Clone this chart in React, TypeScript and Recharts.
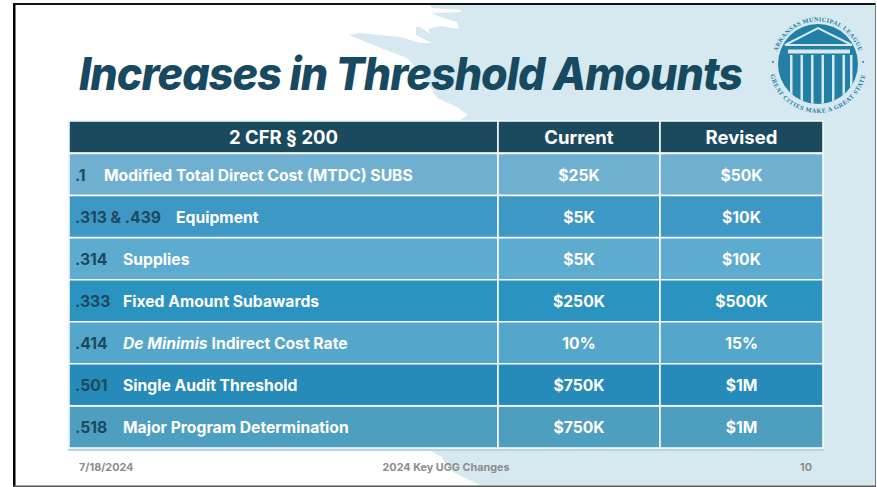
import { BarChart, Bar, XAxis, YAxis, Cell, LabelList } from 'recharts';

const columnHeaders = ['2 CFR § 200', 'Current', 'Revised'];
const columnSpans = [429, 162, 163];

const sectionCodes = ['.1', '.313 & .439', '.314', '.333', '.414', '.501', '.518'];
const sectionNames = [
  'Modified Total Direct Cost (MTDC) SUBS',
  'Equipment',
  'Supplies',
  'Fixed Amount Subawards',
  'De Minimis Indirect Cost Rate',
  'Single Audit Threshold',
  'Major Program Determination',
];
const currentAmounts = ['$25K', '$5K', '$5K', '$250K', '10%', '$750K', '$750K'];
const revisedAmounts = ['$50K', '$10K', '$10K', '$500K', '15%', '$1M', '$1M'];

const footerDate = '7/18/2024';
const footerTitle = '2024 Key UGG Changes';
const footerPage = '10';

const rowColors = ['#6FB0D0', '#3D98C5', '#5DABCF', '#2B93C0', '#55A6CB', '#268BB8', '#4E9EBF'];
const WHITE = '#FFFFFF';
const NAVY = '#1B4A5F';
const SEAL = '#227FA6';
const PALE = '#D6E9F0';
const FONT = 'Inter, sans-serif';

const headerRows = [{ name: 'header', section: columnSpans[0], current: columnSpans[1], revised: columnSpans[2] }];
const bodyRows = sectionNames.map((name) => ({
  name,
  section: columnSpans[0],
  current: columnSpans[1],
  revised: columnSpans[2],
}));

const boxOf = (props: any) => (props.viewBox && props.viewBox.width != null ? props.viewBox : props);

// the section name starts further right the longer the code is
const nameIndent = (code: string) => (code.length > 4 ? 107 : code.length > 2 ? 54 : 35);

const headerLabel = (col: number) => (props: any) => {
  const b = boxOf(props);
  return (
    <text x={b.x + b.width / 2} y={b.y + b.height / 2 + 7} textAnchor="middle" fill={WHITE} fontFamily={FONT} fontWeight={700} fontSize={18.5}>
      {columnHeaders[col]}
    </text>
  );
};

const sectionLabel = (props: any) => {
  const b = boxOf(props);
  const i = props.index;
  const name = sectionNames[i];
  const code = sectionCodes[i];
  const italic = name.startsWith('De Minimis') ? 'De Minimis' : '';
  return (
    <text y={b.y + b.height / 2 + 6.5} fontFamily={FONT} fontWeight={700} fontSize={15.7} fill={WHITE}>
      <tspan x={b.x + 6} fill={NAVY}>{code}</tspan>
      {italic ? <tspan x={b.x + nameIndent(code)} fontStyle="italic">{italic}</tspan> : null}
      {italic
        ? <tspan dx={4}>{name.slice(italic.length + 1)}</tspan>
        : <tspan x={b.x + nameIndent(code)}>{name}</tspan>}
    </text>
  );
};

const amountLabel = (amounts: string[]) => (props: any) => {
  const b = boxOf(props);
  return (
    <text x={b.x + b.width / 2} y={b.y + b.height / 2 + 6.5} textAnchor="middle" fill={WHITE} fontFamily={FONT} fontWeight={700} fontSize={15.7}>
      {amounts[props.index]}
    </text>
  );
};

const Seal = () => (
  <g>
    <defs>
      <clipPath id="sealClip"><circle cx={818} cy={64} r={40} /></clipPath>
      <path id="sealTop" d="M779.5 82 A42.5 42.5 0 1 1 856.5 82" />
      <path id="sealBottom" d="M769 64 A49 49 0 0 0 867 64" />
    </defs>
    <circle cx={818} cy={64} r={40} fill={SEAL} />
    <g clipPath="url(#sealClip)">
      {[790, 800.5, 811, 821.5, 832, 842.5, 850].map((x) => (
        <rect key={x} x={x} y={55} width={2.5} height={50} fill={PALE} />
      ))}
      <rect x={788} y={49.5} width={62} height={4} fill={PALE} />
      <path d="M785 45 L818 28 L852 45 Z" fill="none" stroke={PALE} strokeWidth={2} />
    </g>
    <g fontFamily="'Liberation Serif', serif" fontWeight={700} fill={SEAL} fontSize={6.3}>
      <text letterSpacing={0.3}><textPath href="#sealTop" startOffset="50%" textAnchor="middle">ARKANSAS MUNICIPAL LEAGUE</textPath></text>
      <text letterSpacing={0.5}><textPath href="#sealBottom" startOffset="50%" textAnchor="middle">GREAT CITIES MAKE A GREAT STATE</textPath></text>
    </g>
    <circle cx={773} cy={62} r={1} fill={SEAL} />
    <circle cx={863} cy={62} r={1} fill={SEAL} />
  </g>
);

const Backdrop = () => (
  <svg width={877} height={487} style={{ position: 'absolute', left: 0, top: 0 }}>
    <defs>
      <filter id="soft"><feGaussianBlur stdDeviation={0.7} /></filter>
    </defs>
    <rect x={0} y={0} width={877} height={487} fill={WHITE} />
    <path
      d="M430 5 L432 8 L462 10 L460 12 L432 13 L440 17 L457 22 L459 29 L440 26 L428 29 L430 34 L420 27 L416 27 L416 35 L432 43 L420 43 L400 37 L360 33 L349 35 L373 45 L407 58 L423 75 L430 87 L437 98 L457 107 L468 115 L460 120 L460 125 L427 449 L442 457 L445 463 L453 472 L480 485 L875 485 L875 5 Z"
      fill={PALE}
      filter="url(#soft)"
    />
    <rect x={13} y={3} width={2.5} height={483} fill="#000" />
    <rect x={13} y={3} width={863} height={2} fill="#111" />
    <rect x={875} y={3} width={1} height={483} fill="#777" />
    <rect x={13} y={485.5} width={863} height={1.5} fill="#555" />
    <text x={79} y={90} fontFamily={FONT} fontWeight={800} fontStyle="italic" fontSize={45.5} letterSpacing={-1} fill="#174A60" textLength={663} lengthAdjust="spacingAndGlyphs">
      Increases in Threshold Amounts
    </text>
    <g fontFamily={FONT} fontWeight={700} fontSize={10.8} fill="#8C8C8C">
      <text x={79} y={471}>{footerDate}</text>
      <text x={446} y={471} textAnchor="middle">{footerTitle}</text>
      <text x={806} y={471} textAnchor="middle">{footerPage}</text>
    </g>
    <rect x={68} y={120} width={755.5} height={331} fill="#B7D3E0" />
    <Seal />
  </svg>
);

const chartStyle = { position: 'absolute' as const, left: 0, top: 0 };

export default function App() {
  return (
    <div style={{ position: 'absolute', left: 0, top: 0, width: 877, height: 487, overflow: 'hidden' }}>
      <Backdrop />
      <div style={chartStyle}>
        <BarChart width={877} height={487} layout="vertical" data={headerRows} barCategoryGap={0} margin={{ top: 121, right: 54, bottom: 334, left: 69 }}>
          <XAxis type="number" hide domain={[0, 754]} />
          <YAxis type="category" dataKey="name" hide />
          {['section', 'current', 'revised'].map((key, col) => (
            <Bar key={key} dataKey={key} stackId="a" fill={NAVY} stroke={WHITE} strokeWidth={1.5} isAnimationActive={false}>
              <LabelList dataKey={key} content={headerLabel(col)} />
            </Bar>
          ))}
        </BarChart>
      </div>
      <div style={chartStyle}>
        <BarChart width={877} height={487} layout="vertical" data={bodyRows} barCategoryGap={0} margin={{ top: 153.5, right: 54, bottom: 39, left: 69 }}>
          <XAxis type="number" hide domain={[0, 754]} />
          <YAxis type="category" dataKey="name" hide />
          <Bar dataKey="section" stackId="a" stroke={WHITE} strokeWidth={1.5} isAnimationActive={false}>
            {bodyRows.map((r, i) => <Cell key={r.name} fill={rowColors[i]} />)}
            <LabelList dataKey="section" content={sectionLabel} />
          </Bar>
          <Bar dataKey="current" stackId="a" stroke={WHITE} strokeWidth={1.5} isAnimationActive={false}>
            {bodyRows.map((r, i) => <Cell key={r.name} fill={rowColors[i]} />)}
            <LabelList dataKey="current" content={amountLabel(currentAmounts)} />
          </Bar>
          <Bar dataKey="revised" stackId="a" stroke={WHITE} strokeWidth={1.5} isAnimationActive={false}>
            {bodyRows.map((r, i) => <Cell key={r.name} fill={rowColors[i]} />)}
            <LabelList dataKey="revised" content={amountLabel(revisedAmounts)} />
          </Bar>
        </BarChart>
      </div>
    </div>
  );
}
